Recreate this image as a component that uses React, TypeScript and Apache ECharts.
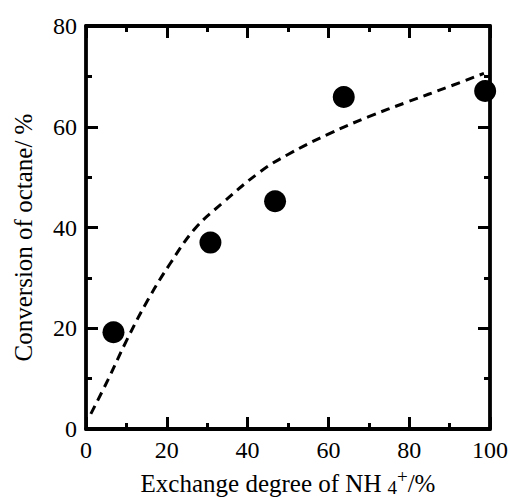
import React, { useEffect, useRef } from "react";
import * as echarts from "echarts";

const exchangeDegree = [6.8, 30.8, 46.8, 63.8, 98.8];
const conversion = [19.2, 37.0, 45.2, 65.9, 67.1];

const fitX = [1.2, 5.4, 10, 15.3, 20.8, 27, 33.7, 43, 50, 60.4, 70, 79.5, 90, 98.5];
const fitY = [3.0, 9.7, 17.5, 25.6, 32.8, 39.8, 44.8, 51, 54.5, 58.7, 62, 64.9, 68, 70.6];

const xTicks = [0, 20, 40, 60, 80, 100];
const yTicks = [0, 20, 40, 60, 80];

const FONT = "'Liberation Serif', 'Times New Roman', serif";

export default function App() {
  const ref = useRef<HTMLDivElement>(null);
  useEffect(() => {
    if (!ref.current) return;
    const chart = echarts.init(ref.current, null, { renderer: "svg" });
    const axisLine = { show: true, onZero: false, lineStyle: { color: "#000", width: 3.8 } };
    const majorTick = { show: true, inside: true, length: 12, lineStyle: { color: "#000", width: 3 } };
    const minorTick = { show: true, splitNumber: 2, length: 6, lineStyle: { color: "#000", width: 3 } };
    const common = {
      type: "value",
      interval: 20,
      axisLine,
      axisTick: majorTick,
      minorTick,
      splitLine: { show: false },
      minorSplitLine: { show: false },
    };
    chart.setOption({
      animation: false,
      backgroundColor: "#fff",
      textStyle: { fontFamily: FONT, color: "#000" },
      grid: { left: 86, right: 20, top: 26, bottom: 69, containLabel: false, outerBoundsMode: "none" },
      xAxis: [
        {
          ...common,
          min: xTicks[0],
          max: xTicks[xTicks.length - 1],
          position: "bottom",
          axisLabel: { color: "#000", fontFamily: FONT, fontSize: 24, margin: 9 },
          name: "Exchange degree of NH{sub|4}{sup|+}/%",
          nameLocation: "middle",
          nameGap: 38,
          nameTextStyle: {
            color: "#000",
            fontFamily: FONT,
            fontSize: 25,
            rich: {
              sub: { fontFamily: FONT, fontSize: 19, color: "#000", padding: [9, 0, 0, 6] },
              sup: { fontFamily: FONT, fontSize: 19, color: "#000", padding: [0, 0, 13, 0] },
            },
          },
        },
        {
          ...common,
          min: xTicks[0],
          max: xTicks[xTicks.length - 1],
          position: "top",
          axisLabel: { show: false },
        },
      ],
      yAxis: [
        {
          ...common,
          min: yTicks[0],
          max: yTicks[yTicks.length - 1],
          position: "left",
          axisLabel: { color: "#000", fontFamily: FONT, fontSize: 24, margin: 9 },
          name: "Conversion of octane/ %",
          nameLocation: "middle",
          nameGap: 50,
          nameTextStyle: { color: "#000", fontFamily: FONT, fontSize: 25, padding: [0, 20, 0, 0] },
        },
        {
          ...common,
          min: yTicks[0],
          max: yTicks[yTicks.length - 1],
          position: "right",
          axisLabel: { show: false },
        },
      ],
      series: [
        {
          type: "line",
          data: fitX.map((x, i) => [x, fitY[i]]),
          smooth: 0.4,
          showSymbol: false,
          symbol: "none",
          lineStyle: { color: "#000", width: 3, type: [9, 6] },
          z: 2,
        },
        {
          type: "scatter",
          data: exchangeDegree.map((x, i) => [x, conversion[i]]),
          symbol: "circle",
          symbolSize: 22,
          itemStyle: { color: "#000", opacity: 1 },
          z: 3,
        },
      ],
    });
    return () => chart.dispose();
  }, []);
  return <div ref={ref} style={{ width: 510, height: 498, position: "absolute", left: 0, top: 0 }} />;
}
